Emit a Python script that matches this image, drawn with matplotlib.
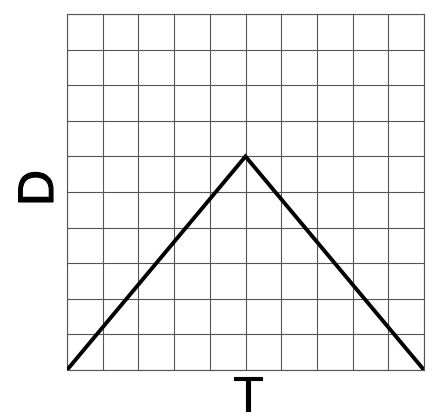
import matplotlib
matplotlib.use("Agg")
import matplotlib.pyplot as plt
import matplotlib.patheffects as pe

# path of the plot: time vs distance
t_vals = [0, 5, 10]
d_vals = [0, 6, 0]
grid_steps = list(range(0, 11))

plt.rcParams["font.family"] = ["Liberation Sans", "DejaVu Sans"]

fig = plt.figure(figsize=(4.38, 4.2), dpi=100)
ax = fig.add_axes([67 / 438, 50 / 420, 357 / 438, 356 / 420])

ax.set_xlim(0, 10)
ax.set_ylim(0, 10)
ax.set_xticks(grid_steps)
ax.set_yticks(grid_steps)
ax.grid(True, color="#555555", lw=0.8)
ax.tick_params(length=0, labelbottom=False, labelleft=False)
for s in ax.spines.values():
    s.set_color("#555555")
    s.set_linewidth(0.8)

ax.plot(t_vals, d_vals, color="black", lw=2.8, solid_joinstyle="miter", zorder=3)

# axis letters placed by hand so they sit like the reference;
# a thin stroke makes them a touch heavier
thick = [pe.withStroke(linewidth=0.8, foreground="black")]
fig.text(248 / 438, 9 / 420, "T", fontsize=36, ha="center", va="baseline",
         path_effects=thick)
fig.text(40 / 438, 1 - 188 / 420, "D", fontsize=36, rotation=90,
         ha="center", va="center", path_effects=thick)

fig.savefig("out.png", dpi=100)
